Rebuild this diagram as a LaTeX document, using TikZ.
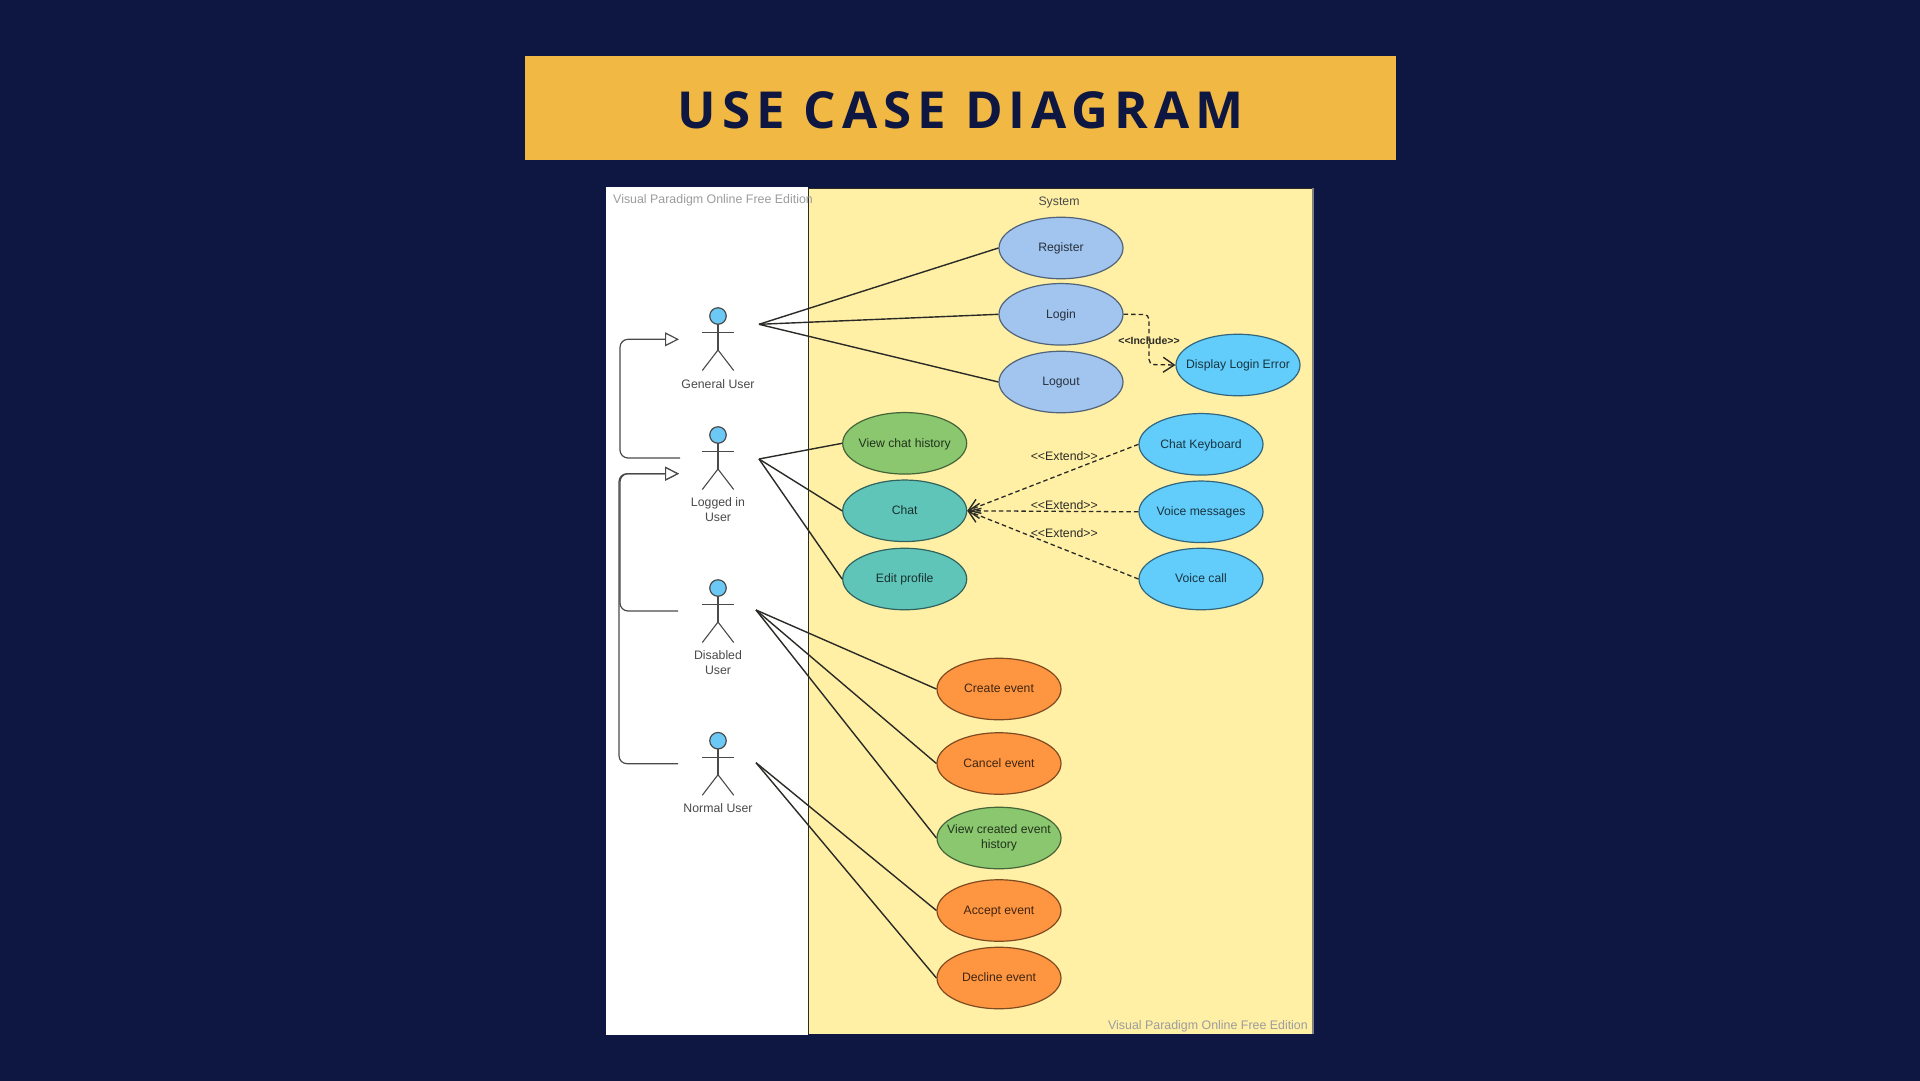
\documentclass[tikz,border=0pt]{standalone}
\usepackage{fontspec}
\setmainfont{Liberation Sans}
\newfontfamily\titlefont[LetterSpace=11.6]{Open Sans}
\usetikzlibrary{shapes.geometric,arrows.meta}
\definecolor{bgnavy}{HTML}{0E1742}
\definecolor{bannergold}{HTML}{F1B843}
\definecolor{sysyellow}{HTML}{FFF0A6}
\definecolor{ucblue}{HTML}{A1C5EF}
\definecolor{ucsky}{HTML}{62CDFB}
\definecolor{ucgreen}{HTML}{8AC76F}
\definecolor{ucteal}{HTML}{60C5B9}
\definecolor{ucorange}{HTML}{FE9541}
\definecolor{linedark}{HTML}{2A2A26}
\definecolor{labelgray}{HTML}{4A4A4A}
\definecolor{markgray}{HTML}{9C9C9C}
\definecolor{actorhead}{HTML}{6CC9F5}
\tikzset{
  ucase/.style={ellipse,draw=#1!50!black,fill=#1,text=#1!25!black,minimum width=124pt,minimum height=61.5pt,inner ysep=0pt,inner xsep=-22pt,line width=1.2pt,align=center,font=\fontsize{12.2}{15.6}\selectfont,execute at begin node={\rule[-2.4pt]{0pt}{12.4pt}}},
  assoc/.style={draw=linedark,line width=1.4pt},
  inherit/.style={draw=labelgray,line width=1.2pt,rounded corners=8pt},
  inherittip/.style={-{Triangle[open,fill=white,length=14pt,width=14pt,line width=1.2pt]}},
  dep/.style={draw=linedark,line width=1.3pt,dash pattern=on 4.5pt off 3pt,-{Straight Barb[length=11pt,width=15pt,line width=1.4pt]}},
  txtsmall/.style={text=labelgray,inner sep=0pt,align=center,font=\fontsize{12.3}{15}\selectfont},
  watermark/.style={text=markgray,inner sep=0pt,font=\fontsize{12.4}{14}\selectfont},
  limb/.style={draw=labelgray,line width=1.1pt},
}
\newcommand{\umlactor}[3]{% name, x, head y
  \node[circle,draw=labelgray,fill=actorhead,line width=1.2pt,minimum size=16.5pt,inner sep=0pt] (#1head) at (#2,#3) {};
  \coordinate (#1neck) at (#2,#3+8.3);
  \coordinate (#1hip) at (#2,#3+34);
  \coordinate (#1armL) at (#2-15.7,#3+16.7);
  \coordinate (#1armR) at (#2+15.7,#3+16.7);
  \coordinate (#1footL) at (#2-15.7,#3+54.5);
  \coordinate (#1footR) at (#2+15.7,#3+54.5);
  \draw[limb] (#1neck) -- (#1hip);
  \draw[limb] (#1armL) -- (#1armR);
  \draw[limb] (#1footL) -- (#1hip) -- (#1footR);
}
\begin{document}
\begin{tikzpicture}[x=1pt,y=-1pt]
\useasboundingbox (0,0) rectangle (1920,1080);
\fill[bgnavy] (-3,-3) rectangle (1923,1083);
% banner
\fill[bannergold] (524.5,56) rectangle (1395.5,160);
\node[text=bgnavy,inner sep=0pt,font=\titlefont\bfseries\fontsize{51}{60}\selectfont] (title) at (960.5,110) {USE CASE DIAGRAM};
% diagram sheet
\fill[white] (606,187) rectangle (808,1035);
\fill[sysyellow] (808,188) rectangle (1313,1033.5);
\draw[draw=linedark,line width=0.8pt] (1313,188) -- (808,188) -- (808,1034);
\draw[draw=gray,line width=1.6pt] (1313,188) -- (1313,1034);
\node[watermark,anchor=west] (markA) at (613,200) {Visual Paradigm Online Free Edition};
\node[watermark,anchor=east] (markB) at (1308,1026.5) {Visual Paradigm Online Free Edition};
\node[txtsmall] (sys) at (1059,202.5) {System};
% use cases
\node[ucase=ucblue] (reg) at (1061,248) {Register};
\node[ucase=ucblue] (login) at (1061,314.3) {Login};
\node[ucase=ucblue] (logout) at (1061,382) {Logout};
\node[ucase=ucsky] (dle) at (1238,365) {Display Login Error};
\node[ucase=ucgreen] (hist) at (904.7,443.3) {View chat history};
\node[ucase=ucteal] (chat) at (904.7,510.8) {Chat};
\node[ucase=ucteal] (edit) at (904.7,579) {Edit profile};
\node[ucase=ucsky] (kbd) at (1201,444.3) {Chat Keyboard};
\node[ucase=ucsky] (voice) at (1201,511.8) {Voice messages};
\node[ucase=ucsky] (call) at (1201,579) {Voice call};
\node[ucase=ucorange] (create) at (999,689) {Create event};
\node[ucase=ucorange] (cancel) at (999,763.5) {Cancel event};
\node[ucase=ucgreen] (created) at (999,838) {View created event\\history};
\node[ucase=ucorange] (accept) at (999,910.5) {Accept event};
\node[ucase=ucorange] (decline) at (999,978) {Decline event};
% actors
\umlactor{gen}{718}{316}
\umlactor{log}{718}{435}
\umlactor{dis}{718}{588}
\umlactor{nor}{718}{740.7}
\node[txtsmall] (genlbl) at (718,384) {General User};
\node[txtsmall] (loglbl) at (718,509.5) {Logged in\\User};
\node[txtsmall] (dislbl) at (718,662.5) {Disabled\\User};
\node[txtsmall] (norlbl) at (718,808) {Normal User};
% associations
\coordinate (genout) at (759,324.3);
\coordinate (logout2) at (759,459);
\coordinate (disout) at (756,610);
\coordinate (norout) at (756,762.7);
\draw[assoc] (genout) -- (reg.west);
\draw[assoc] (genout) -- (login.west);
\draw[assoc] (genout) -- (logout.west);
\draw[assoc] (logout2) -- (hist.west);
\draw[assoc] (logout2) -- (chat.west);
\draw[assoc] (logout2) -- (edit.west);
\draw[assoc] (disout) -- (create.west);
\draw[assoc] (disout) -- (cancel.west);
\draw[assoc] (disout) -- (created.west);
\draw[assoc] (norout) -- (accept.west);
\draw[assoc] (norout) -- (decline.west);
% generalisation
\coordinate (login1) at (680,458);
\coordinate (gentip) at (679,339.3);
\coordinate (logtip) at (679,473.7);
\coordinate (disst) at (678,611);
\coordinate (norst) at (678,763.7);
\draw[inherit,inherittip] (login1) -- (620,458) -- (620,339.3) -- (gentip);
\draw[inherit,inherittip] (disst) -- (620,611) -- (620,473.7) -- (logtip);
\draw[inherit,inherittip] (norst) -- (619,763.7) -- (619,473.7) -- (logtip);
% dependencies
\draw[dep,rounded corners=5pt] (login.east) -- (1149,314.5) -- (1149,364.5) -- (dle.west);
\draw[dep] (kbd.west) -- (chat.east);
\draw[dep] (voice.west) -- (chat.east);
\draw[dep] (call.west) -- (chat.east);
\node[inner sep=0pt,text=linedark,font=\bfseries\fontsize{10.5}{12}\selectfont] (incl) at (1149,340.5) {<{}<Include>{}>};
\node[txtsmall,text=linedark] (ext1) at (1064.3,456) {<{}<Extend>{}>};
\node[txtsmall,text=linedark] (ext2) at (1064.3,505) {<{}<Extend>{}>};
\node[txtsmall,text=linedark] (ext3) at (1064.3,532.7) {<{}<Extend>{}>};
\end{tikzpicture}
\end{document}
